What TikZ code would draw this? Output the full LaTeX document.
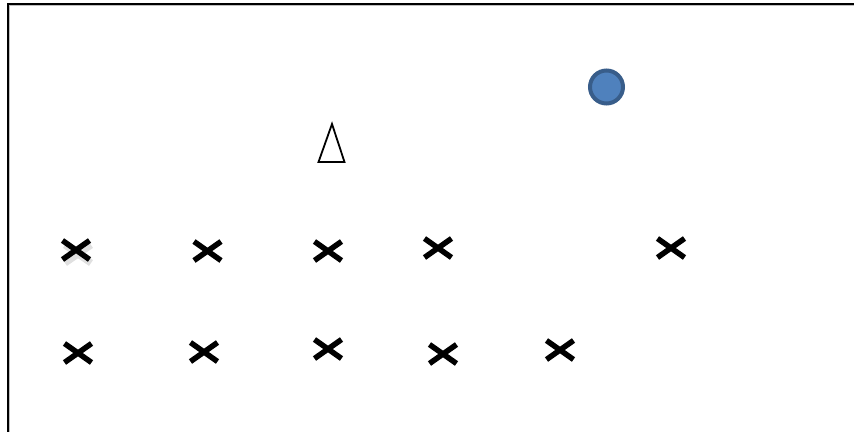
\documentclass[tikz,border=0pt]{standalone}
\usetikzlibrary{calc}
\definecolor{dotfill}{HTML}{4F81BD}
\definecolor{dotline}{HTML}{385D8A}
\tikzset{
  xmark/.style={minimum width=30pt, minimum height=24pt, inner sep=0pt, outer sep=0pt},
  xline/.style={line width=5.5pt, black, line cap=butt},
  frameline/.style={line width=2pt, black},
  frameshadow/.style={line width=1.5pt, black!25},
  tri/.style={line width=1.8pt, black, line join=miter},
  dot/.style={circle, fill=dotfill, draw=dotline, line width=4pt, minimum size=33pt, inner sep=0pt}
}
\begin{document}
\begin{tikzpicture}[x=1pt,y=-1pt]
\useasboundingbox (0,0) rectangle (854,432);
% frame (top and left edges)
\coordinate (tl) at (7.5,3.5);
\coordinate (tr) at (854,3.5);
\coordinate (bl) at (7.5,432);
\draw[frameshadow] ($(tr)+(0,2)$) -- ($(tl)+(2,2)$) -- ($(bl)+(2,0)$);
\draw[frameline] (tr) -- (tl) -- (bl);
% circle
\node[dot] (c) at (606.5,87) {};
% triangle
\coordinate (ta) at (332,124);
\coordinate (tb) at (318.5,162);
\coordinate (tc) at (344.5,162);
\draw[tri] (ta) -- (tb) -- (tc) -- cycle;
% shadow of first cross
\node[xmark] (s1) at (78,254) {};
\draw[xline, black!12, line width=7pt] ($(s1.south west)+(2,-3)$) -- ($(s1.north east)+(-2,3)$)
  ($(s1.north west)+(2,3)$) -- ($(s1.south east)+(-2,-3)$);
% row 1
\node[xmark] (a1) at (76,250) {};
\node[xmark] (a2) at (207.5,251) {};
\node[xmark] (a3) at (328,251) {};
\node[xmark] (a4) at (438,248) {};
\node[xmark] (a5) at (671,248) {};
% row 2
\node[xmark] (b1) at (78,353) {};
\node[xmark] (b2) at (204,352) {};
\node[xmark] (b3) at (328,349) {};
\node[xmark] (b4) at (443,354) {};
\node[xmark] (b5) at (560,350) {};
\foreach \n in {a1,a2,a3,a4,a5,b1,b2,b3,b4,b5}{
  \draw[xline] ($(\n.south west)+(1.5,-2.5)$) -- ($(\n.north east)+(-1.5,2.5)$)
    ($(\n.north west)+(1.5,2.5)$) -- ($(\n.south east)+(-1.5,-2.5)$);
}
\end{tikzpicture}
\end{document}
